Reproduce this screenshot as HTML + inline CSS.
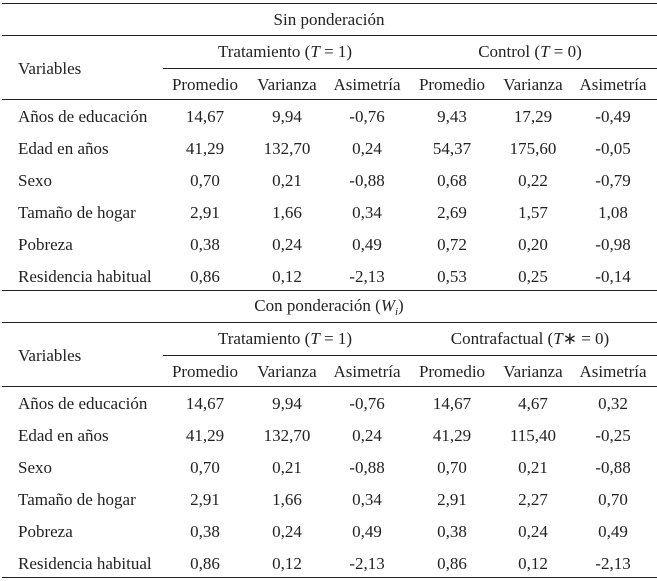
<!DOCTYPE html>
<html><head><meta charset="utf-8"><style>
body{margin:0;background:#fff;}
#t{position:relative;width:657px;height:581px;font-family:"Liberation Serif",serif;font-size:17px;color:#222;overflow:hidden}
.l{position:absolute;left:2px;right:0;height:1.3px;background:#222}
.p{position:absolute;left:163px;right:0;height:1px;background:#222}
.c{position:absolute;transform:translate(-50%,-50%);white-space:nowrap}
.v{position:absolute;left:18px;transform:translateY(-50%);white-space:nowrap}
i{font-style:italic}
</style></head><body>
<div id="t">
<div class="l" style="top:3px"></div>
<div class="l" style="top:35px"></div>
<div class="p" style="top:68px"></div>
<div class="l" style="top:99px"></div>
<div class="l" style="top:290px"></div>
<div class="l" style="top:322px"></div>
<div class="p" style="top:355px"></div>
<div class="l" style="top:386px"></div>
<div class="l" style="top:577px"></div>
</div>
<script>
const t=document.getElementById('t');
const cols=[205,287,367,452,533,613];
const rows=["Años de educación","Edad en años","Sexo","Tamaño de hogar","Pobreza","Residencia habitual"];
const v1=[["14,67","9,94","-0,76","9,43","17,29","-0,49"],["41,29","132,70","0,24","54,37","175,60","-0,05"],["0,70","0,21","-0,88","0,68","0,22","-0,79"],["2,91","1,66","0,34","2,69","1,57","1,08"],["0,38","0,24","0,49","0,72","0,20","-0,98"],["0,86","0,12","-2,13","0,53","0,25","-0,14"]];
const v2=[["14,67","9,94","-0,76","14,67","4,67","0,32"],["41,29","132,70","0,24","41,29","115,40","-0,25"],["0,70","0,21","-0,88","0,70","0,21","-0,88"],["2,91","1,66","0,34","2,91","2,27","0,70"],["0,38","0,24","0,49","0,38","0,24","0,49"],["0,86","0,12","-2,13","0,86","0,12","-2,13"]];
const hdr=["Promedio","Varianza","Asimetría","Promedio","Varianza","Asimetría"];
function add(cls,x,y,html,name){const d=document.createElement('div');d.className=cls;if(x!==null)d.style.left=x+'px';d.style.top=y+'px';d.innerHTML=html;


t.appendChild(d);}
function section(y0,title,g1,g2,vals){
add('c',329,y0+17,title,'section-title');
add('v',null,y0+66,'Variables','variables-header');
add('c',285,y0+49,g1,'group-header');
add('c',530,y0+49,g2,'group-header');
hdr.forEach((h,i)=>add('c',cols[i],y0+82,h,'column-header'));
rows.forEach((r,j)=>{const y=y0+114+j*31.9;add('v',null,y,r,'row-label');vals[j].forEach((s,i)=>add('c',cols[i],y,s,'cell-value'));});
}
section(3,'Sin ponderación','Tratamiento (<i>T</i> = 1)','Control (<i>T</i> = 0)',v1);
section(290,'Con ponderación (<i>W<sub style="font-size:11px">i</sub></i>)','Tratamiento (<i>T</i> = 1)','Contrafactual (<i>T</i>∗ = 0)',v2);
</script>
</body></html>
